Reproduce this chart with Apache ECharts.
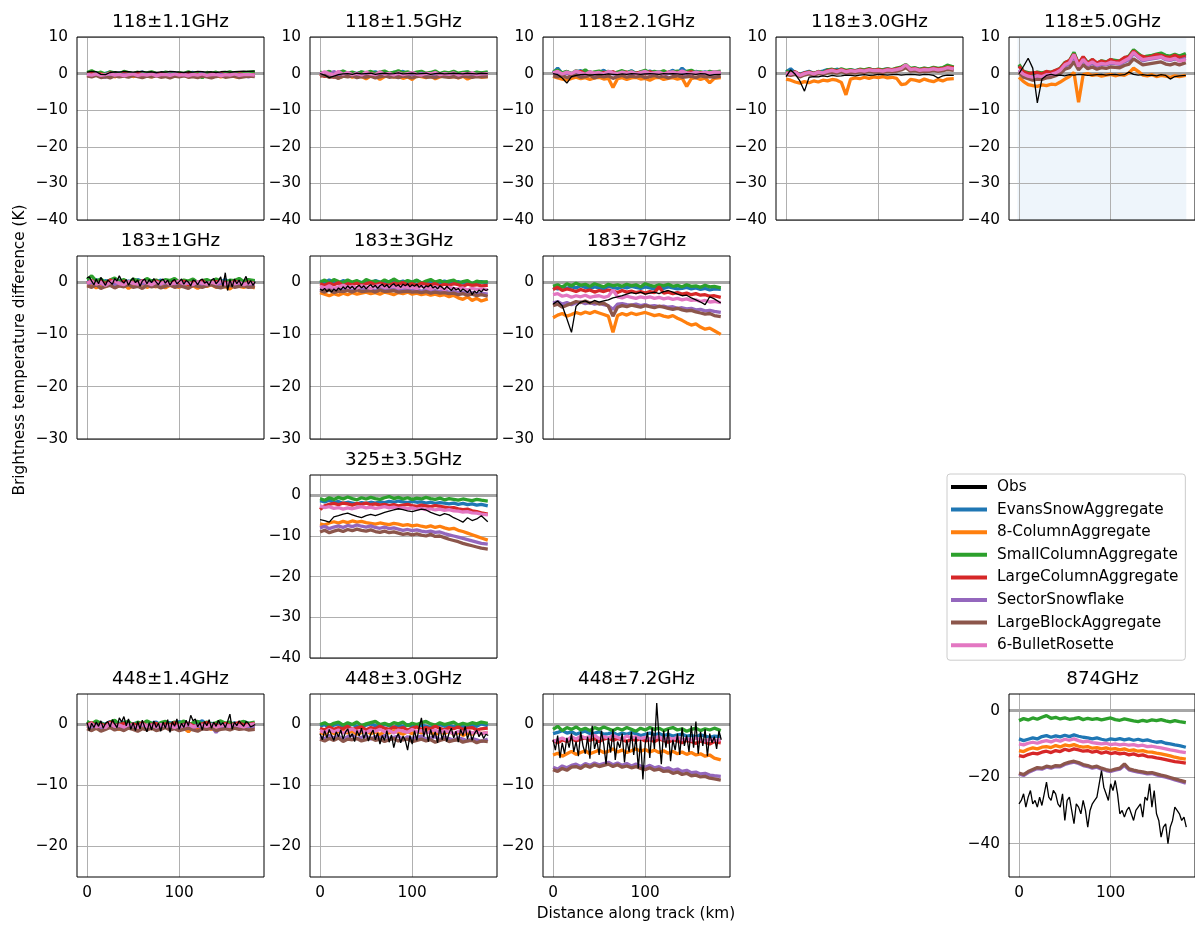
<!DOCTYPE html>
<html><head><meta charset="utf-8">
<script src="https://cdn.jsdelivr.net/npm/echarts@6/dist/echarts.min.js"></script>
<style>html,body{margin:0;padding:0;background:#fff}#c{width:1195px;height:927px}</style>
</head><body><div id="c"></div>
<script>
// ---------- distances (km) ----------
const dist = [0,5,10,15,20,25,30,35,40,45,50,55,60,65,70,75,80,85,90,95,100,105,110,115,120,125,130,135,140,145,150,155,160,165,170,175,182];
const distFine = [0,2.5,5,7.5,10,12.5,15,17.5,20,22.5,25,27.5,30,32.5,35,37.5,40,42.5,45,47.5,50,52.5,55,57.5,60,62.5,65,67.5,70,72.5,75,77.5,80,82.5,85,87.5,90,92.5,95,97.5,100,102.5,105,107.5,110,112.5,115,117.5,120,122.5,125,127.5,130,132.5,135,137.5,140,142.5,145,147.5,150,152.5,155,157.5,160,162.5,165,167.5,170,172.5,175,177.5,180,182.5];

// ---------- tick labels ----------
const xTicks = [0,100];
const yTicksTop = [-40,-30,-20,-10,0,10];
const yTicks183 = [-30,-20,-10,0];
const yTicks325 = [-40,-30,-20,-10,0];
const yTicks448 = [-20,-10,0];
const yTicks874 = [-40,-20,0];

const seriesNames = ['Obs','EvansSnowAggregate','8-ColumnAggregate','SmallColumnAggregate','LargeColumnAggregate','SectorSnowflake','LargeBlockAggregate','6-BulletRosette'];
const panelTitles = ['118±1.1GHz','118±1.5GHz','118±2.1GHz','118±3.0GHz','118±5.0GHz','183±1GHz','183±3GHz','183±7GHz','325±3.5GHz','448±1.4GHz','448±3.0GHz','448±7.2GHz','874GHz'];

// ---------- 118±1.1 ----------
const a118_11_obs = [0.4,0.6,0.5,-0.2,-0.3,0.3,0.5,0.4,0.6,0.5,0.4,0.5,0.6,0.4,0.5,0.3,0.5,0.4,0.6,0.5,0.4,0.3,0.5,0.4,0.6,0.5,0.4,0.5,0.3,0.5,0.6,0.4,0.5,0.6,0.7,0.6,0.7];
const a118_11_evans = [0.2,-0.1,0.3,-0.2,0.1,0.4,-0.3,0.2,0.0,0.3,-0.2,0.1,0.4,-0.1,0.2,-0.3,0.1,0.3,-0.2,0.0,0.2,-0.4,0.1,0.3,-0.1,0.2,-0.3,0.0,0.2,-0.2,0.1,0.3,-0.1,0.2,0.0,-0.2,0.1];
const a118_11_col8 = [-0.4,-0.7,-0.3,-0.8,-0.5,-0.2,-0.9,-0.4,-0.6,-0.3,-0.8,-0.5,-0.2,-0.7,-0.9,-0.4,-0.6,-0.3,-0.8,-0.5,-0.7,-0.4,-0.9,-0.3,-0.6,-0.8,-0.5,-0.7,-0.4,-0.9,-0.6,-0.3,-0.8,-1.0,-0.5,-0.7,-0.4];
const a118_11_small = [0.3,0.8,0.1,0.4,-0.2,0.5,0.2,-0.1,0.6,0.3,0.0,0.4,-0.3,0.2,0.5,0.1,-0.2,0.4,0.2,-0.5,0.3,0.0,0.5,-0.1,0.2,-1.2,0.3,0.1,0.4,-0.2,0.2,0.5,0.0,0.3,-0.1,0.4,0.5];
const a118_11_large = [-0.2,0.1,-0.4,-0.1,-0.5,0.2,-0.3,-0.6,0.0,-0.2,-0.4,0.1,-0.3,-0.5,-0.1,-0.3,0.0,-0.4,-0.2,-0.6,-0.1,-0.3,0.1,-0.5,-0.2,-0.4,-0.7,-0.1,-0.3,0.0,-0.4,-0.2,-0.5,-0.1,-0.3,-0.4,-0.2];
const a118_11_sector = [-0.3,-0.6,-0.2,-0.8,-1.0,-0.4,-0.2,-0.6,-0.3,-0.5,-0.1,-0.7,-0.4,-0.2,-0.6,-0.3,-0.8,-0.4,-0.1,-0.5,-0.7,-0.3,-0.5,-0.2,-0.6,-0.4,-0.8,-0.3,-0.5,-0.2,-0.6,-0.4,-0.7,-0.3,-0.5,-0.9,-0.4];
const a118_11_block = [-0.6,-0.9,-0.5,-1.1,-0.8,-1.2,-0.6,-0.9,-0.7,-1.0,-0.5,-0.8,-1.1,-0.7,-0.9,-0.6,-1.0,-0.8,-1.2,-0.7,-0.9,-0.6,-1.0,-0.8,-1.1,-0.7,-0.9,-1.2,-0.8,-0.6,-1.0,-0.8,-0.7,-1.1,-0.9,-0.7,-0.8];
const a118_11_bullet = [-0.2,-0.4,-0.1,-0.5,-0.3,0.0,-0.4,-0.2,-0.6,-0.3,-0.1,-0.5,-0.2,-0.4,-0.1,-0.6,-0.3,-0.2,-0.5,-0.1,-0.4,-0.3,-0.6,-0.2,-0.4,-0.1,-0.5,-0.3,-0.2,-0.6,-0.3,-0.4,-0.1,-0.5,-0.3,-0.2,-0.4];

// ---------- 118±1.5 ----------
const a118_15_obs = [0.0,-0.4,-1.1,-0.7,-0.3,-0.1,0.0,-0.2,0.1,-0.1,0.0,0.1,-0.2,0.0,0.1,-0.1,0.0,0.2,-0.1,0.0,0.1,-0.1,0.0,0.1,-0.2,0.0,0.1,-0.1,0.0,0.1,0.0,-0.1,0.1,0.0,-0.1,0.1,0.0];
const a118_15_evans = [0.3,0.0,0.5,-0.2,0.2,0.6,-0.1,0.3,0.0,0.4,-0.3,0.2,0.5,0.0,0.3,-0.2,0.4,0.1,0.6,-0.1,0.3,0.0,0.5,-0.2,0.2,0.4,-0.1,0.3,0.0,0.5,-0.2,0.2,0.4,-0.1,0.3,0.1,0.2];
const a118_15_col8 = [-0.6,-0.3,-0.9,-0.5,-1.2,-0.7,-0.4,-1.0,-0.6,-0.8,-1.4,-0.7,-0.5,-1.6,-0.8,-0.6,-1.0,-0.7,-1.3,-0.9,-1.6,-0.6,-0.8,-1.1,-0.7,-1.4,-0.9,-0.6,-1.0,-0.8,-1.2,-0.7,-1.5,-0.9,-0.6,-1.0,-0.8];
const a118_15_small = [0.4,0.1,0.6,0.0,0.3,0.7,0.1,0.4,-0.1,0.5,0.2,0.6,0.0,0.4,0.7,0.1,0.3,0.8,0.2,0.5,0.0,0.4,0.6,0.1,0.3,0.7,0.0,0.4,0.2,0.6,0.1,0.3,0.5,0.0,0.4,0.2,0.5];
const a118_15_large = [-0.2,-0.8,-0.4,-1.0,-0.3,-0.6,-0.1,-0.5,-0.2,-0.7,-0.3,0.0,-0.5,-0.2,-0.6,-0.1,-0.4,-0.8,-0.2,-0.5,-0.1,-0.6,-0.3,-0.4,-0.1,-0.5,-0.2,-0.7,-0.3,-0.1,-0.5,-0.2,-0.6,-0.3,-0.4,-0.2,-0.3];
const a118_15_sector = [-0.3,0.2,-0.5,0.6,-0.2,-0.7,0.3,-0.4,-0.1,-0.6,0.1,-0.3,-0.5,0.2,-0.4,-0.2,-0.6,0.0,-0.3,-0.5,-0.1,-0.4,0.1,-0.6,-0.2,-0.3,-0.5,0.0,-0.4,-0.2,-0.6,-0.1,-0.3,-0.5,-0.2,-0.4,-0.3];
const a118_15_block = [-0.7,-0.5,-1.0,-0.8,-1.3,-0.7,-0.9,-0.6,-1.1,-0.8,-1.0,-0.7,-1.2,-0.9,-0.6,-1.0,-0.8,-1.1,-0.7,-0.9,-1.2,-0.8,-0.6,-1.0,-0.9,-1.1,-0.7,-0.9,-1.0,-0.8,-1.1,-0.7,-0.9,-1.0,-0.8,-0.9,-0.8];
const a118_15_bullet = [-0.1,0.5,0.0,-0.4,0.6,-0.2,0.3,-0.3,0.1,-0.4,0.4,-0.1,-0.3,0.5,-0.2,0.1,-0.4,0.2,-0.3,0.0,0.3,-0.2,-0.4,0.1,-0.1,0.3,-0.3,0.0,-0.2,0.2,-0.4,0.0,-0.1,0.2,-0.3,-0.1,0.0];

// ---------- 118±2.1 ----------
const a118_21_obs = [0.0,-0.3,-1.2,-2.6,-0.8,-0.5,-0.3,-0.2,-0.4,-0.3,-0.2,-0.3,-0.1,-0.2,-0.3,-0.1,-0.2,0.0,-0.1,-0.2,-0.1,0.0,-0.1,-0.2,0.0,-0.1,0.0,-0.1,-0.2,0.0,-0.1,-0.2,0.0,-0.1,-0.5,-0.3,-0.2];
const a118_21_evans = [0.2,1.5,0.0,0.6,-0.2,0.4,0.8,0.0,0.5,-0.1,0.3,0.9,0.1,0.4,0.0,0.6,0.2,0.8,0.0,0.4,0.1,0.7,0.2,0.5,0.0,0.3,0.9,0.1,1.5,0.3,0.0,0.6,0.2,0.5,0.1,0.4,0.3];
const a118_21_col8 = [-0.8,-1.2,-1.5,-1.8,-1.3,-1.0,-1.4,-1.1,-1.6,-1.2,-1.0,-1.5,-1.3,-3.8,-1.4,-1.1,-1.6,-1.2,-1.0,-1.5,-1.3,-1.8,-1.2,-1.0,-1.6,-1.3,-1.1,-1.5,-1.2,-3.5,-1.4,-1.1,-1.6,-1.2,-2.5,-1.3,-1.1];
const a118_21_small = [0.5,0.9,0.2,0.6,0.0,0.8,0.3,1.0,0.1,0.5,0.7,0.2,0.6,0.0,0.4,0.8,0.3,0.6,0.1,0.5,0.9,0.2,0.6,0.3,0.8,0.1,0.5,0.7,0.2,0.6,0.9,0.3,0.5,0.1,0.6,0.4,0.7];
const a118_21_large = [0.0,0.5,-0.3,0.3,-0.5,0.2,0.6,-0.2,0.4,0.0,-0.4,0.3,0.1,0.5,-0.2,0.2,0.4,-0.3,0.1,0.3,-0.1,0.5,0.0,0.2,-0.3,0.4,0.1,0.3,-0.2,0.2,0.5,0.0,0.3,-0.1,0.2,0.0,0.3];
const a118_21_sector = [-0.2,0.3,-0.5,0.1,-0.3,0.4,-0.1,-0.4,0.2,-0.2,0.0,-0.5,0.3,-0.1,-0.3,0.2,0.0,-0.4,0.1,-0.2,0.3,-0.1,-0.3,0.2,-0.5,0.0,0.3,-0.2,0.1,-0.4,0.0,0.2,-0.3,0.1,-0.2,0.0,-0.1];
const a118_21_block = [-0.6,-0.9,-0.5,-1.1,-0.7,-0.4,-1.0,-0.8,-0.5,-1.2,-0.7,-0.9,-0.6,-1.3,-0.8,-0.5,-1.0,-0.7,-0.9,-0.6,-1.1,-0.8,-0.5,-1.0,-0.7,-1.2,-0.8,-0.6,-1.0,-0.9,-0.7,-1.1,-0.6,-0.9,-0.8,-1.0,-0.7];
const a118_21_bullet = [0.2,0.6,-0.1,0.4,0.0,0.7,0.2,-0.2,0.5,0.1,0.3,-0.1,0.6,0.2,0.0,0.4,0.1,0.5,-0.1,0.3,0.6,0.0,0.2,0.4,-0.1,0.3,0.5,0.1,0.7,0.2,0.0,0.4,0.1,0.3,0.2,0.5,0.3];

// ---------- 118±3.0 ----------
const a118_30_obs = [-0.8,1.0,-0.2,-2.0,-4.8,-1.0,-0.8,-0.9,-0.6,-0.8,-0.5,-0.7,-0.6,-0.4,-0.5,-0.6,-0.4,-0.3,-0.5,-0.4,-0.2,-0.3,-0.4,-0.3,-0.2,-0.4,-0.3,-0.2,-0.3,-0.4,-0.2,-0.3,-0.5,-1.2,-0.6,-0.4,-0.5];
const a118_30_evans = [0.5,1.3,0.2,-0.2,0.3,0.6,0.1,0.4,0.7,1.1,0.8,1.2,0.9,0.6,1.0,0.8,1.1,0.7,1.2,1.0,0.8,1.1,1.3,0.9,1.2,1.5,2.2,1.3,1.5,1.1,1.4,1.2,1.6,1.3,1.5,2.0,1.7];
const a118_30_col8 = [-1.5,-1.8,-2.3,-2.6,-2.2,-2.5,-2.0,-2.3,-1.8,-2.0,-1.6,-1.8,-2.4,-5.8,-1.5,-1.2,-1.4,-1.0,-1.3,-0.9,-1.1,-0.8,-1.2,-1.0,-1.3,-3.0,-2.8,-1.6,-1.8,-2.1,-1.5,-1.9,-2.2,-1.6,-2.0,-1.5,-1.4];
const a118_30_small = [0.8,0.2,0.4,-0.3,0.1,0.5,0.0,0.6,0.3,1.0,1.2,0.8,1.3,0.9,1.1,0.7,1.2,1.0,1.4,0.9,1.2,1.0,1.3,1.1,1.5,1.8,2.5,1.4,1.6,1.2,1.5,1.3,1.7,1.4,1.6,2.3,1.8];
const a118_30_large = [0.3,0.0,0.5,-0.4,0.2,0.4,0.0,0.5,0.2,0.8,1.0,0.7,1.1,0.6,0.9,0.7,1.0,0.8,1.2,0.9,1.1,0.8,1.2,1.0,1.3,1.6,2.3,1.2,1.4,1.0,1.3,1.1,1.5,1.2,1.4,1.8,1.6];
const a118_30_sector = [0.0,-0.3,0.2,-0.6,-0.1,0.2,-0.2,0.3,0.1,0.5,0.7,0.4,0.8,0.4,0.6,0.5,0.8,0.6,0.9,0.7,0.8,0.6,0.9,0.8,1.0,1.3,2.0,1.0,1.1,0.8,1.0,0.9,1.2,0.9,1.1,1.4,1.2];
const a118_30_block = [-0.3,-0.5,-0.2,-0.9,-0.4,-0.1,-0.5,0.0,-0.2,0.2,0.4,0.1,0.5,0.1,0.3,0.2,0.5,0.3,0.6,0.4,0.5,0.3,0.6,0.5,0.7,1.0,1.6,0.7,0.8,0.5,0.7,0.6,0.9,0.6,0.8,1.1,0.9];
const a118_30_bullet = [0.2,-0.1,0.3,-0.5,0.0,0.3,-0.1,0.4,0.2,0.6,0.9,0.5,1.0,0.5,0.8,0.6,0.9,0.7,1.0,0.8,0.9,0.7,1.0,0.9,1.1,1.4,2.4,1.1,1.3,0.9,1.1,1.0,1.3,1.0,1.2,1.6,1.3];

// ---------- 118±5.0 ----------
const a118_50_obs = [0.0,2.0,4.2,1.5,-8.0,-1.5,-0.5,-0.2,-0.5,-0.4,-0.6,-0.3,-0.4,-0.2,-0.3,-0.5,-0.4,-0.3,-0.2,-0.4,-0.3,-0.2,-0.4,-0.3,0.4,-0.2,-0.4,-0.3,-0.5,-0.4,-0.6,-0.3,-0.5,-1.5,-0.8,-0.6,-0.5];
const a118_50_evans = [2.2,0.4,0.1,-0.2,0.2,0.0,0.3,0.2,0.6,1.3,2.8,3.3,5.5,2.3,4.3,2.8,3.6,2.6,3.3,3.0,3.6,3.4,3.2,4.0,4.6,6.3,5.3,4.3,4.6,4.8,5.1,5.4,4.8,4.6,5.1,4.6,5.2];
const a118_50_col8 = [-1.0,-2.2,-3.0,-3.3,-3.5,-3.1,-3.3,-2.9,-3.0,-2.3,-1.5,-0.8,0.3,-7.8,-0.3,0.0,-0.5,-0.3,-0.7,-0.4,-0.2,-0.6,-0.3,-0.5,0.2,1.5,0.6,-0.4,-0.6,-0.3,-0.8,-0.5,-0.7,-1.0,-0.6,-0.8,-0.5];
const a118_50_small = [2.5,0.6,0.3,0.0,0.4,0.2,0.5,0.4,0.8,1.5,3.0,3.5,5.8,2.5,4.5,3.0,3.8,2.8,3.5,3.2,3.8,3.6,3.4,4.2,4.8,6.5,5.5,4.5,4.8,5.0,5.3,5.6,5.0,4.8,5.3,4.8,5.5];
const a118_50_large = [2.0,0.5,0.0,0.2,0.3,-0.1,0.6,0.3,0.9,1.4,2.9,3.6,5.3,2.8,4.6,2.7,3.9,2.9,3.4,3.0,3.9,3.2,3.5,4.4,4.6,6.2,5.0,4.7,4.4,4.7,5.2,5.0,4.6,4.4,5.0,4.4,4.8];
const a118_50_sector = [1.0,-0.4,-0.8,-1.2,-0.8,-1.0,-0.5,-0.4,0.0,0.6,2.0,2.6,4.6,1.8,3.5,2.2,2.8,2.0,2.5,2.4,2.8,2.7,2.5,3.2,3.8,5.5,4.5,3.5,3.8,4.0,4.2,4.5,3.8,3.6,4.0,3.6,4.2];
const a118_50_block = [0.2,-1.0,-1.4,-1.8,-1.5,-1.6,-1.2,-1.0,-0.6,0.0,1.2,1.6,3.2,1.0,2.4,1.3,1.8,1.2,1.6,1.4,1.8,1.7,1.6,2.2,2.6,4.0,3.2,2.4,2.6,2.8,3.0,3.2,2.6,2.4,2.8,2.4,3.0];
const a118_50_bullet = [0.8,-0.2,-0.7,-1.0,-0.6,-0.8,-0.3,-0.2,0.2,0.9,2.4,3.0,5.2,2.0,3.9,2.5,3.2,2.4,2.8,2.6,3.1,2.9,2.8,3.5,4.2,5.8,4.6,3.8,4.0,4.2,4.4,4.6,4.0,3.8,4.2,3.4,3.8];

// ---------- 183±1 ----------
const a183_1_obs = [0.8,1.0,0.2,-0.5,0.6,-0.3,0.9,0.1,-0.6,0.4,0.0,-0.4,0.7,0.2,1.2,0.3,-0.2,0.5,-0.6,0.3,0.8,-0.1,0.4,-0.8,0.2,0.6,-0.3,0.5,-0.1,0.7,0.0,-0.5,0.3,0.6,-0.2,0.4,-0.6,0.2,0.5,-0.3,0.1,0.6,-0.4,0.3,0.0,-0.7,0.4,0.2,-0.5,0.3,0.6,-0.2,0.1,-0.6,0.4,0.7,-0.3,0.2,1.0,-0.8,1.8,-1.6,0.5,-0.9,0.6,-0.3,0.4,-0.7,0.2,1.1,-0.4,0.3,-0.6,0.1];
const a183_1_evans = [0.3,0.0,0.5,-0.2,0.3,0.1,-0.3,0.4,0.0,0.2,-0.1,0.5,0.1,-0.2,0.3,0.0,0.4,-0.3,0.2,0.1,-0.1,0.3,0.0,0.4,-0.2,0.2,0.1,-0.3,0.3,0.0,0.5,-0.1,0.2,0.4,-0.2,0.1,0.2];
const a183_1_col8 = [-0.8,-0.5,-1.1,-0.6,-0.9,-0.4,-1.0,-0.7,-0.5,-1.2,-0.6,-0.8,-0.4,-1.0,-0.7,-0.9,-0.5,-1.1,-0.6,-0.8,-1.0,-0.5,-0.9,-0.7,-1.2,-0.6,-0.8,-0.5,-1.0,-0.7,-0.9,-1.3,-0.6,-0.8,-1.0,-0.7,-1.1];
const a183_1_small = [0.5,1.2,0.2,0.6,-0.1,0.4,0.8,0.1,0.5,-0.2,0.6,0.3,0.0,0.7,0.2,0.4,-0.1,0.5,0.3,0.7,0.0,0.4,0.2,0.6,-0.1,0.3,0.5,0.1,0.6,0.2,-0.2,0.4,0.3,0.7,0.1,0.5,0.3];
const a183_1_large = [-0.2,0.3,-0.5,0.1,-0.3,0.4,-0.1,-0.6,0.2,-0.2,0.0,-0.4,0.3,-0.1,-0.5,0.2,-0.2,0.0,-0.4,0.1,-0.3,0.2,-0.5,0.0,-0.2,0.3,-0.4,-0.1,0.1,-0.3,0.0,-0.5,0.2,-0.2,-0.4,0.0,-0.3];
const a183_1_sector = [-0.4,-0.1,-0.6,-0.2,-0.8,-0.3,-0.5,-0.1,-0.7,-0.4,-0.2,-0.6,-0.3,-0.5,-0.1,-0.7,-0.4,-0.2,-0.6,-0.3,-0.8,-0.4,-0.2,-0.5,-0.3,-0.7,-0.1,-0.4,-0.6,-0.3,-0.5,-0.2,-0.7,-0.4,-0.3,-0.6,-0.4];
const a183_1_block = [-0.7,-1.0,-0.5,-1.2,-0.8,-0.6,-1.1,-0.7,-0.9,-0.5,-1.0,-0.8,-1.2,-0.6,-0.9,-0.7,-1.1,-0.8,-0.5,-1.0,-0.7,-0.9,-1.2,-0.6,-0.8,-1.0,-0.7,-0.5,-0.9,-1.1,-0.8,-0.6,-1.0,-0.8,-0.7,-1.0,-0.9];
const a183_1_bullet = [-0.2,0.2,-0.4,0.0,-0.6,-0.1,0.3,-0.3,-0.5,0.1,-0.2,-0.4,0.2,-0.1,-0.5,0.0,-0.3,0.1,-0.4,-0.2,0.2,-0.3,-0.1,-0.5,0.1,-0.2,-0.4,0.0,-0.3,0.2,-0.4,-0.1,-0.3,0.0,-0.5,-0.2,-0.3];

// ---------- 183±3 ----------
const a183_3_obs = [-1.3,-1.6,-1.2,-1.8,-1.4,-1.9,-1.3,-1.7,-1.1,-1.5,-0.9,-1.3,-0.7,-1.2,-0.8,-1.4,-0.9,-0.6,-1.1,-0.7,-1.3,-0.8,-0.5,-1.0,-0.6,-1.2,-0.7,-0.4,-0.9,-0.5,-1.1,-0.6,-0.3,-0.8,-0.5,-1.0,-0.4,-0.7,-0.3,-0.9,-0.5,-0.8,-0.4,-1.0,-0.6,-1.2,-0.7,-0.9,-0.5,-1.1,-0.8,-1.3,-0.7,-1.0,-1.4,-0.8,-1.2,-1.6,-1.0,-1.5,-1.2,-1.8,-1.3,-1.6,-2.0,-1.4,-2.4,-1.7,-2.1,-1.5,-1.9,-1.3,-1.6,-1.4];
const a183_3_evans = [0.2,-0.1,0.4,0.0,-0.2,0.3,0.0,-0.3,0.2,-0.1,0.1,-0.2,0.3,0.0,-0.2,0.1,0.4,-0.1,0.2,-0.2,0.0,0.3,-0.1,-0.3,0.1,0.0,-0.2,0.2,-0.1,-0.3,0.1,-0.2,0.0,-0.3,-0.1,0.1,-0.2];
const a183_3_col8 = [-2.0,-2.3,-2.6,-2.2,-2.5,-2.1,-2.4,-2.0,-2.3,-2.1,-1.9,-2.2,-2.0,-2.3,-1.9,-2.1,-2.4,-2.0,-2.2,-1.9,-2.3,-2.1,-2.4,-2.2,-2.5,-2.3,-2.6,-2.4,-2.8,-2.5,-3.0,-3.3,-2.8,-3.5,-3.1,-3.6,-3.2];
const a183_3_small = [0.0,0.4,-0.2,0.5,0.1,-0.1,0.4,0.0,0.3,-0.2,0.5,0.1,0.2,-0.1,0.4,0.0,0.6,0.1,-0.1,0.3,0.0,0.4,-0.2,0.2,0.5,0.0,0.3,-0.1,0.2,0.4,-0.2,0.1,0.3,-0.3,0.2,0.0,0.1];
const a183_3_large = [-0.3,-0.6,-0.2,-0.5,-0.1,-0.7,-0.3,-0.5,-0.2,-0.6,-0.3,-0.1,-0.5,-0.2,-0.4,-0.6,-0.2,-0.4,-0.1,-0.5,-0.3,-0.6,-0.2,-0.4,-0.5,-0.3,-0.7,-0.4,-0.6,-0.3,-0.5,-0.8,-0.4,-0.6,-0.5,-0.7,-0.6];
const a183_3_sector = [-1.3,-1.6,-1.2,-1.7,-1.4,-1.5,-1.3,-1.6,-1.2,-1.5,-1.4,-1.3,-1.6,-1.2,-1.5,-1.4,-1.3,-1.6,-1.5,-1.4,-1.6,-1.5,-1.7,-1.5,-1.8,-1.6,-1.8,-1.7,-1.9,-1.8,-2.0,-1.9,-2.1,-2.0,-2.2,-2.1,-2.3];
const a183_3_block = [-1.6,-1.9,-1.5,-2.0,-1.7,-1.8,-1.6,-1.9,-1.5,-1.8,-1.7,-1.6,-1.9,-1.5,-1.8,-1.7,-1.6,-1.9,-1.8,-1.7,-1.9,-1.8,-2.0,-1.8,-2.1,-1.9,-2.1,-2.0,-2.2,-2.1,-2.4,-2.2,-2.5,-2.3,-2.6,-2.4,-2.7];
const a183_3_bullet = [-0.8,-1.1,-0.7,-1.2,-0.9,-0.6,-1.0,-0.8,-1.1,-0.7,-0.9,-1.2,-0.8,-0.6,-1.0,-0.9,-0.7,-1.1,-0.8,-1.0,-0.9,-1.2,-0.8,-1.0,-1.3,-0.9,-1.1,-1.4,-1.0,-1.2,-1.3,-1.1,-1.5,-1.2,-1.4,-1.3,-1.5];

// ---------- 183±7 ----------
const a183_7_obs = [-4.2,-3.6,-4.5,-7.0,-9.6,-4.6,-3.8,-3.6,-4.0,-3.5,-3.8,-3.6,-3.4,-3.0,-2.8,-2.6,-2.3,-2.0,-2.2,-1.9,-2.3,-2.1,-1.9,-2.2,-1.8,-1.6,-1.9,-2.3,-2.6,-2.5,-3.0,-3.4,-3.8,-4.3,-2.8,-3.2,-4.0];
const a183_7_evans = [-1.0,-1.3,-0.8,-1.2,-0.9,-1.1,-0.7,-1.0,-1.2,-0.9,-1.1,-1.3,-0.8,-1.0,-1.2,-0.9,-1.1,-0.8,-1.0,-1.2,-0.9,-1.1,-1.3,-1.0,-1.2,-0.9,-1.1,-1.3,-1.2,-1.0,-1.3,-1.1,-1.4,-1.2,-1.5,-1.3,-1.4];
const a183_7_col8 = [-6.8,-6.3,-6.0,-6.5,-6.2,-5.8,-6.1,-5.7,-6.0,-5.6,-5.9,-6.2,-6.5,-9.6,-6.4,-6.0,-6.3,-5.9,-6.2,-6.0,-5.8,-6.1,-6.4,-6.2,-6.5,-6.7,-6.4,-6.9,-7.3,-7.8,-8.2,-8.0,-8.6,-9.0,-8.8,-9.3,-10.0];
const a183_7_small = [-0.8,-0.5,-1.0,-0.3,-0.7,-0.2,-0.6,-0.4,-0.8,-0.3,-0.6,-0.9,-0.4,-0.7,-0.5,-0.8,-0.4,-0.7,-0.5,-0.9,-0.3,-0.6,-0.8,-0.5,-0.7,-0.4,-0.8,-0.6,-0.9,-0.5,-0.8,-0.7,-1.0,-0.6,-0.9,-0.8,-1.1];
const a183_7_large = [-1.4,-1.0,-1.6,-1.3,-1.5,-1.8,-1.4,-1.7,-1.5,-1.9,-1.6,-1.8,-1.5,-1.7,-2.0,-1.6,-1.9,-1.7,-2.0,-1.8,-2.1,-1.8,-2.0,-0.9,-2.1,-1.9,-2.2,-2.0,-2.3,-2.1,-2.4,-2.2,-2.5,-2.4,-2.7,-2.6,-2.9];
const a183_7_sector = [-4.0,-3.7,-4.2,-3.9,-4.3,-4.0,-3.8,-4.1,-3.9,-4.2,-4.0,-4.3,-4.5,-5.2,-4.2,-4.1,-4.3,-4.4,-4.2,-4.5,-4.3,-4.6,-4.5,-4.7,-4.6,-4.8,-4.7,-5.0,-4.9,-5.1,-5.0,-5.3,-5.2,-5.5,-5.4,-5.6,-5.8];
const a183_7_block = [-4.5,-4.2,-4.8,-4.4,-4.1,-3.7,-3.9,-3.6,-4.0,-3.8,-4.2,-4.0,-4.6,-6.5,-4.8,-4.5,-4.7,-4.4,-4.6,-4.8,-4.5,-4.7,-4.9,-4.6,-4.8,-5.0,-5.2,-5.0,-5.3,-5.5,-5.4,-5.7,-5.9,-6.1,-6.0,-6.4,-6.6];
const a183_7_bullet = [-2.4,-2.2,-2.7,-2.5,-2.9,-2.6,-2.8,-2.5,-2.9,-2.7,-2.6,-2.9,-2.7,-1.5,-2.8,-3.0,-2.7,-2.9,-3.1,-2.8,-3.0,-2.8,-3.1,-2.9,-3.2,-3.0,-3.3,-3.1,-3.4,-3.2,-3.5,-3.4,-3.7,-3.5,-3.8,-3.7,-3.9];

// ---------- 325±3.5 ----------
const a325_35_obs = [-6.0,-6.2,-6.6,-5.3,-5.0,-4.6,-4.4,-4.8,-5.2,-5.5,-5.0,-4.7,-5.0,-4.6,-4.2,-3.9,-3.6,-3.3,-3.5,-3.8,-4.0,-3.7,-3.4,-3.6,-4.2,-4.6,-5.0,-4.5,-4.8,-5.5,-6.0,-6.6,-5.5,-6.2,-5.8,-5.0,-6.5];
const a325_35_evans = [-1.3,-1.6,-1.2,-1.8,-1.5,-2.0,-1.7,-1.9,-2.1,-1.8,-2.0,-1.7,-1.9,-1.6,-1.8,-1.5,-1.7,-1.4,-1.6,-1.8,-1.5,-1.7,-1.6,-1.9,-1.7,-2.0,-1.8,-1.9,-2.1,-1.9,-2.2,-2.0,-2.3,-2.1,-2.4,-2.2,-2.6];
const a325_35_col8 = [-7.0,-7.3,-6.8,-6.5,-6.8,-6.4,-6.7,-6.3,-6.6,-6.4,-6.7,-6.9,-7.1,-6.8,-7.0,-7.2,-6.9,-7.1,-7.4,-7.2,-7.5,-7.3,-7.6,-7.8,-7.5,-7.9,-7.6,-8.0,-8.3,-8.1,-8.6,-8.9,-9.3,-9.7,-10.1,-10.5,-11.0];
const a325_35_small = [-0.8,-1.2,-0.6,-1.0,-0.5,-0.9,-0.4,-0.8,-1.1,-0.6,-0.9,-0.5,-0.8,-1.0,-0.6,-0.3,-0.8,-0.5,-0.9,-0.6,-1.0,-0.7,-0.9,-0.5,-0.8,-1.0,-0.7,-1.1,-0.8,-1.0,-1.2,-0.9,-1.1,-1.3,-1.0,-1.2,-1.4];
const a325_35_large = [-3.5,-2.6,-2.2,-2.0,-2.3,-1.9,-2.1,-2.4,-2.0,-2.2,-1.9,-2.3,-2.1,-2.4,-2.2,-2.5,-2.3,-2.6,-2.4,-2.2,-2.5,-2.7,-2.4,-2.6,-2.8,-2.5,-2.7,-2.9,-3.1,-3.0,-3.3,-3.5,-3.4,-3.8,-4.0,-4.3,-4.6];
const a325_35_sector = [-8.0,-7.6,-8.2,-7.8,-7.5,-7.9,-7.4,-7.7,-7.3,-7.6,-7.8,-7.5,-7.9,-8.1,-7.8,-8.2,-8.0,-8.3,-8.6,-8.4,-8.7,-8.5,-8.8,-9.0,-8.8,-9.1,-9.0,-9.4,-9.7,-10.0,-10.3,-10.6,-10.9,-11.2,-11.5,-11.8,-12.0];
const a325_35_block = [-9.0,-8.6,-9.2,-8.8,-8.5,-8.9,-8.4,-8.7,-8.3,-8.6,-8.8,-8.5,-8.9,-9.1,-8.8,-9.2,-9.0,-9.3,-9.6,-9.4,-9.7,-9.5,-9.8,-10.0,-9.6,-10.1,-10.0,-10.4,-10.8,-11.1,-11.4,-11.8,-12.1,-12.4,-12.7,-13.0,-13.2];
const a325_35_bullet = [-2.6,-3.0,-2.8,-3.2,-3.0,-3.4,-3.1,-3.3,-3.0,-2.8,-3.1,-2.9,-3.2,-3.0,-2.8,-3.1,-2.9,-3.2,-3.0,-3.3,-3.1,-3.4,-3.2,-3.5,-3.3,-3.6,-3.4,-3.7,-3.5,-3.8,-3.9,-4.1,-4.0,-4.3,-4.4,-4.6,-4.8];

// ---------- 448±1.4 ----------
const a448_14_obs = [0.3,-1.0,0.2,-0.5,0.4,-0.3,0.6,-0.6,0.2,0.5,-0.4,0.8,0.1,-0.5,1.1,0.4,1.3,-0.2,0.9,-0.8,0.3,-1.0,0.5,-0.7,0.7,-0.4,-1.2,0.3,-0.9,0.6,-0.5,0.2,-1.1,0.4,-0.6,0.8,-1.3,0.5,-0.3,0.9,-0.8,0.2,-0.5,0.7,-0.2,1.5,0.6,0.9,-0.4,0.3,-0.9,0.5,-0.2,0.8,-0.6,0.4,-0.3,0.7,-0.1,0.3,-0.5,0.5,1.7,-0.8,0.4,-0.2,0.6,0.1,-0.3,0.5,0.2,-0.4,-0.2,0.0];
const a448_14_evans = [0.4,0.1,-0.2,0.3,0.0,0.5,-0.1,0.2,0.4,-0.2,0.1,0.3,0.0,-0.3,0.2,0.4,-0.1,0.1,0.3,-0.2,0.5,0.0,0.2,-0.1,0.3,0.6,0.0,0.2,-0.2,0.4,0.1,-0.1,0.3,0.0,0.5,0.2,0.1];
const a448_14_col8 = [-0.5,-0.2,-0.7,-0.3,-0.6,-0.1,-0.5,-0.8,-0.3,-0.6,-0.4,-1.0,-0.5,-0.2,-0.7,-0.4,-0.6,-0.3,-0.8,-0.5,-0.2,-0.6,-1.2,-0.4,-0.7,-0.3,-0.5,-0.8,-0.4,-0.6,-0.3,-0.7,-0.5,-0.2,-0.6,-0.4,-0.5];
const a448_14_small = [0.5,0.1,0.6,0.2,-0.1,0.4,0.7,0.0,0.3,0.5,-0.2,0.4,0.1,0.6,0.2,-0.1,0.3,0.5,0.0,0.4,0.2,0.6,-0.1,0.3,0.5,0.1,0.4,0.0,0.3,0.6,0.2,0.4,-0.1,0.3,0.5,0.2,0.4];
const a448_14_large = [-0.1,0.3,-0.4,0.1,-0.3,0.4,-0.2,0.0,0.2,-0.4,0.1,-0.2,0.3,-0.3,0.0,0.2,-0.4,0.1,-0.1,0.3,-0.3,0.0,0.2,-0.2,-0.4,0.1,0.3,-0.1,0.0,-0.3,0.2,-0.2,0.1,0.3,-0.1,0.0,0.2];
const a448_14_sector = [-0.3,-0.6,-0.2,-0.8,-0.4,-0.1,-0.6,-0.3,-0.5,-0.2,-0.7,-0.4,-0.1,-0.5,-0.3,-0.6,-0.2,-0.4,-0.7,-0.3,-0.5,-0.1,-0.4,-0.6,-0.2,-0.5,-0.8,-0.3,-1.3,-0.4,-0.6,-0.2,-0.5,-0.3,-0.6,-0.4,-0.3];
const a448_14_block = [-0.7,-1.0,-0.6,-1.1,-0.8,-0.5,-0.9,-0.7,-1.0,-0.6,-0.8,-1.1,-0.7,-0.9,-0.6,-1.0,-0.8,-0.5,-0.9,-0.7,-1.0,-0.8,-0.6,-0.9,-1.1,-0.7,-0.8,-0.6,-1.0,-0.8,-0.7,-0.9,-0.6,-0.8,-0.7,-0.9,-0.8];
const a448_14_bullet = [-0.2,0.1,-0.4,-0.1,-0.5,0.2,-0.3,-0.1,-0.4,0.0,-0.2,-0.5,0.1,-0.3,-0.1,-0.4,0.0,-0.3,-0.2,-0.5,-0.1,-0.3,0.1,-0.4,-0.2,-0.1,-0.3,0.0,-0.4,-0.2,-0.1,-0.3,0.0,-0.2,-0.4,-0.1,0.1];

// ---------- 448±3.0 ----------
const a448_30_obs = [-1.5,-2.5,-1.0,-2.2,-0.8,-1.8,-2.6,-1.2,-2.0,-0.9,-2.4,-1.3,-0.7,-2.1,-1.5,-2.8,-1.0,-1.9,-0.6,-2.3,-1.2,-2.7,-1.6,-0.9,-2.5,-1.4,-3.2,-1.8,-2.6,-1.0,-2.9,-1.7,-3.8,-2.2,-1.5,-3.0,-1.9,-2.6,-4.2,-1.8,-3.2,-1.0,-2.6,-0.5,1.1,-2.0,-0.6,-2.8,-0.8,-2.2,-1.2,-3.0,-0.4,-2.5,-1.0,-2.8,-1.4,-0.6,-2.2,-1.1,-2.9,-0.8,-1.8,-0.3,-2.4,-1.0,-2.6,-1.5,-0.9,-2.0,-1.3,-2.3,-1.6,-1.8];
const a448_30_evans = [-0.3,0.0,-0.5,-0.1,0.1,-0.4,-0.2,0.0,-0.3,-0.5,-0.1,0.1,-0.2,-0.4,0.0,-0.2,-0.5,-0.1,-0.3,0.0,-0.4,-0.2,-0.1,-0.3,-0.5,-0.2,0.0,-0.3,-0.1,-0.4,-0.2,-0.3,-0.5,-0.1,-0.3,0.1,-0.2];
const a448_30_col8 = [-1.3,-1.6,-1.0,-1.5,-1.2,-0.9,-1.4,-1.1,-1.6,-1.3,-1.0,-1.5,-1.2,-1.7,-1.1,-1.4,-1.0,-1.3,-1.6,-1.2,-1.5,-1.1,-1.4,-1.0,-1.3,-1.7,-1.2,-1.5,-1.1,-1.6,-1.3,-1.8,-1.4,-1.6,-1.2,-1.5,-1.3];
const a448_30_small = [0.0,0.3,-0.2,0.2,0.4,-0.1,0.3,0.0,0.4,-0.2,0.1,0.3,0.5,0.0,0.2,-0.1,0.3,0.1,0.4,-0.2,0.2,0.0,0.3,0.5,0.1,-0.1,0.3,0.0,0.2,0.4,-0.1,0.2,0.0,0.3,0.1,0.4,0.2];
const a448_30_large = [-0.6,-0.9,-0.4,-0.8,-0.5,-0.7,-0.3,-0.8,-0.6,-0.4,-0.9,-0.5,-0.7,-0.3,-0.6,-0.8,-0.4,-0.7,-0.5,-0.9,-0.6,-0.4,-0.8,-0.5,-0.7,-0.3,-0.6,-0.9,-0.5,-0.7,-0.4,-0.8,-0.6,-0.5,-0.9,-0.7,-0.6];
const a448_30_sector = [-2.0,-2.3,-1.8,-2.2,-1.9,-2.4,-2.0,-1.8,-2.3,-2.1,-1.9,-2.4,-2.0,-2.2,-1.8,-2.3,-2.1,-1.9,-2.5,-2.0,-2.3,-2.1,-1.9,-2.4,-2.2,-2.0,-2.5,-2.1,-2.3,-2.6,-2.2,-2.4,-2.7,-2.3,-2.5,-2.8,-2.4];
const a448_30_block = [-2.4,-2.7,-2.3,-2.6,-2.2,-2.8,-2.4,-2.5,-2.3,-2.7,-2.5,-2.2,-2.6,-2.4,-2.8,-2.5,-2.3,-2.7,-2.5,-2.4,-2.8,-2.6,-2.4,-2.7,-2.5,-2.9,-2.6,-2.4,-2.8,-2.6,-2.5,-2.9,-2.7,-2.6,-3.0,-2.7,-2.8];
const a448_30_bullet = [-1.0,-1.3,-0.8,-1.2,-0.9,-1.4,-1.0,-0.7,-1.2,-1.0,-1.3,-0.9,-1.1,-0.8,-1.2,-1.0,-1.4,-0.9,-1.1,-1.3,-0.8,-1.2,-1.0,-1.4,-1.1,-0.9,-1.3,-1.0,-1.2,-1.5,-1.1,-1.3,-1.0,-1.4,-1.2,-1.5,-1.3];

// ---------- 448±7.2 ----------
const a448_72_obs = [-2.5,-4.2,-1.8,-5.5,-3.0,-4.8,-2.2,-3.8,-1.5,-4.5,-2.8,-5.2,-1.2,-3.5,-4.8,-2.0,-5.6,-0.2,-4.0,-2.5,-5.0,-1.0,-3.2,-6.5,-2.2,-4.6,-0.8,-5.8,-2.8,-3.8,-1.5,-6.2,-2.5,-4.5,-1.2,-5.0,-2.0,-7.2,-2.5,-9.0,-3.2,-1.2,-5.5,-0.5,-4.0,3.5,-2.2,-6.5,-1.0,-3.8,-0.8,-6.0,-2.5,-4.2,-1.5,-5.0,-0.5,-3.5,-1.8,-4.5,-0.2,-3.8,0.5,-4.8,-1.2,-3.5,-0.8,-5.2,-1.5,-3.0,-2.0,-4.0,-1.0,-2.5];
const a448_72_evans = [-1.5,-1.3,-1.0,-1.4,-1.2,-1.6,-1.3,-1.1,-1.5,-1.4,-1.2,-1.6,-1.5,-1.3,-1.7,-1.4,-1.6,-1.3,-1.5,-1.8,-1.6,-1.4,-1.7,-1.5,-1.8,-1.6,-1.9,-1.7,-1.6,-1.9,-1.8,-2.0,-1.7,-1.9,-2.1,-1.9,-2.0];
const a448_72_col8 = [-5.0,-4.7,-5.2,-4.8,-4.4,-4.9,-4.6,-4.3,-4.8,-4.5,-4.2,-4.6,-4.4,-4.0,-4.5,-4.2,-4.6,-4.3,-4.0,-4.4,-4.1,-4.5,-4.2,-4.6,-4.3,-4.7,-4.4,-4.8,-4.5,-4.9,-4.6,-5.0,-4.8,-5.2,-5.0,-5.5,-5.8];
const a448_72_small = [-0.8,-0.3,-1.0,-0.5,-0.8,-0.4,-0.9,-0.6,-1.0,-0.5,-0.8,-0.4,-0.7,-1.0,-0.6,-0.9,-0.5,-0.8,-1.1,-0.6,-0.9,-0.5,-0.8,-0.6,-1.0,-0.7,-0.5,-0.9,-0.7,-1.1,-0.8,-0.6,-1.0,-0.7,-0.9,-0.6,-1.0];
const a448_72_large = [-2.6,-3.0,-2.5,-2.8,-2.3,-2.7,-2.4,-2.2,-2.6,-2.3,-2.8,-2.4,-2.2,-2.6,-2.3,-2.5,-2.8,-2.4,-2.6,-2.3,-2.7,-2.5,-2.8,-2.4,-2.6,-2.9,-2.5,-2.7,-3.0,-2.6,-2.8,-3.1,-2.7,-2.9,-3.2,-2.8,-3.0];
const a448_72_sector = [-7.0,-7.3,-6.8,-7.1,-6.7,-6.5,-6.9,-6.4,-6.7,-6.3,-6.6,-6.4,-6.2,-6.6,-6.3,-6.7,-6.4,-6.8,-6.5,-6.8,-7.0,-6.7,-7.1,-6.9,-7.3,-7.1,-7.5,-7.3,-7.7,-7.5,-7.9,-7.8,-8.1,-8.0,-8.3,-8.4,-8.5];
const a448_72_block = [-7.4,-7.7,-7.2,-7.5,-7.0,-6.9,-7.2,-6.7,-7.0,-6.6,-6.9,-6.7,-6.5,-6.9,-6.6,-7.0,-6.8,-7.1,-6.9,-7.2,-7.4,-7.1,-7.5,-7.3,-7.7,-7.6,-8.0,-7.8,-8.2,-8.0,-8.4,-8.3,-8.6,-8.5,-8.8,-8.9,-9.1];
const a448_72_bullet = [-2.8,-2.5,-2.2,-2.6,-2.0,-2.4,-1.9,-2.2,-2.0,-1.8,-2.3,-2.0,-2.2,-1.8,-2.1,-2.4,-1.9,-2.2,-2.0,-2.3,-2.1,-2.4,-2.2,-2.0,-2.5,-2.2,-2.4,-2.1,-2.5,-2.3,-2.6,-2.2,-2.5,-2.7,-2.4,-2.6,-2.5];

// ---------- 874 ----------
const a874_obs = [-28,-27,-25,-29,-26,-24,-28,-27,-29,-26,-28.5,-25,-21.5,-26,-27,-24,-25,-28,-29,-25,-33,-27,-26,-30,-34,-28,-29,-31,-27,-30,-35,-30,-28,-27,-26,-22,-18,-23,-25,-27,-22,-24,-21,-25,-31,-30,-32,-30,-29,-31,-33,-30,-29,-28,-32,-26,-27,-22,-29,-24,-31,-33,-38,-35,-34,-40,-35,-33,-29,-30,-31,-33,-32,-35];
const a874_evans = [-8.5,-9.0,-8.6,-8.2,-8.5,-7.8,-7.5,-8.0,-7.6,-7.9,-7.4,-7.8,-7.3,-7.7,-8.0,-8.2,-8.5,-8.2,-8.6,-8.9,-8.5,-8.7,-8.4,-8.8,-8.5,-8.9,-8.6,-9.0,-8.8,-9.2,-9.5,-9.3,-9.8,-10.0,-10.3,-10.5,-11.0];
const a874_col8 = [-12.0,-12.3,-11.6,-11.2,-11.5,-11.0,-10.8,-11.1,-10.5,-10.9,-10.3,-10.6,-10.2,-10.7,-11.0,-10.8,-11.3,-11.1,-11.5,-11.2,-11.6,-11.4,-11.8,-11.5,-12.0,-11.8,-12.2,-12.0,-12.4,-12.5,-12.8,-13.0,-13.3,-13.6,-14.0,-14.3,-14.6];
const a874_small = [-3.0,-2.4,-2.8,-2.2,-2.6,-2.0,-1.5,-2.3,-2.0,-2.5,-2.2,-2.6,-2.4,-2.1,-2.7,-2.3,-2.6,-2.4,-2.8,-2.5,-2.2,-2.7,-2.9,-2.5,-2.8,-3.1,-3.3,-2.9,-3.2,-2.8,-3.0,-2.7,-3.1,-3.4,-3.0,-3.3,-3.6];
const a874_large = [-13.5,-13.8,-13.2,-12.8,-13.0,-12.5,-12.2,-12.6,-12.0,-12.3,-11.6,-12.0,-11.5,-11.8,-12.2,-12.0,-12.5,-12.2,-12.8,-12.4,-12.9,-12.6,-13.0,-12.8,-13.3,-13.0,-13.5,-13.3,-13.8,-13.9,-14.2,-14.4,-14.7,-15.0,-15.3,-15.5,-15.8];
const a874_sector = [-19.0,-19.5,-18.6,-18.0,-17.4,-17.6,-17.0,-17.3,-16.8,-16.9,-16.2,-15.8,-15.5,-15.9,-16.5,-16.8,-17.3,-17.0,-17.6,-18.0,-18.3,-17.9,-17.6,-16.5,-17.8,-18.2,-18.5,-18.7,-19.0,-18.9,-19.3,-19.7,-20.0,-20.4,-20.8,-21.2,-21.8];
const a874_block = [-18.8,-19.2,-18.3,-17.7,-17.1,-17.3,-16.7,-17.0,-16.5,-16.6,-15.9,-15.5,-15.2,-15.6,-16.2,-16.5,-17.0,-16.7,-17.3,-17.7,-18.0,-17.6,-17.3,-16.0,-17.5,-17.9,-18.2,-18.4,-18.7,-18.6,-19.0,-19.4,-19.7,-20.1,-20.5,-20.9,-21.4];
const a874_bullet = [-10.0,-10.3,-9.8,-9.5,-9.8,-9.3,-9.0,-9.4,-8.8,-9.2,-8.6,-8.9,-8.5,-9.0,-9.4,-9.2,-9.6,-9.8,-10.0,-9.8,-10.2,-10.0,-10.3,-10.1,-10.4,-10.2,-10.6,-10.4,-10.8,-10.7,-11.0,-11.2,-11.5,-11.8,-12.0,-12.3,-12.6];

// ---------- layout / styling ----------
const FONT = 'DejaVu Sans';
const TICK_FS = 15.3;
const TITLE_FS = 18.3;
const GW = 187, GH = 183;
const colLeft = [77, 310, 543, 776, 1009];
const rowTop = [37, 256, 475, 694];
const colors = ['#000000','#1f77b4','#ff7f0e','#2ca02c','#d62728','#9467bd','#8c564b','#e377c2'];
const xMin = -10.9, xMax = 192;
const shadeRange = [-1.7, 182.5];

const panels = [
  {r:0,c:0,yr:[-40,10],yt:yTicksTop,ox:dist,s:[a118_11_obs,a118_11_evans,a118_11_col8,a118_11_small,a118_11_large,a118_11_sector,a118_11_block,a118_11_bullet]},
  {r:0,c:1,yr:[-40,10],yt:yTicksTop,ox:dist,s:[a118_15_obs,a118_15_evans,a118_15_col8,a118_15_small,a118_15_large,a118_15_sector,a118_15_block,a118_15_bullet]},
  {r:0,c:2,yr:[-40,10],yt:yTicksTop,ox:dist,s:[a118_21_obs,a118_21_evans,a118_21_col8,a118_21_small,a118_21_large,a118_21_sector,a118_21_block,a118_21_bullet]},
  {r:0,c:3,yr:[-40,10],yt:yTicksTop,ox:dist,s:[a118_30_obs,a118_30_evans,a118_30_col8,a118_30_small,a118_30_large,a118_30_sector,a118_30_block,a118_30_bullet]},
  {r:0,c:4,yr:[-40,10],yt:yTicksTop,ox:dist,shade:true,s:[a118_50_obs,a118_50_evans,a118_50_col8,a118_50_small,a118_50_large,a118_50_sector,a118_50_block,a118_50_bullet]},
  {r:1,c:0,yr:[-30,5],yt:yTicks183,ox:distFine,s:[a183_1_obs,a183_1_evans,a183_1_col8,a183_1_small,a183_1_large,a183_1_sector,a183_1_block,a183_1_bullet]},
  {r:1,c:1,yr:[-30,5],yt:yTicks183,ox:distFine,s:[a183_3_obs,a183_3_evans,a183_3_col8,a183_3_small,a183_3_large,a183_3_sector,a183_3_block,a183_3_bullet]},
  {r:1,c:2,yr:[-30,5],yt:yTicks183,ox:dist,s:[a183_7_obs,a183_7_evans,a183_7_col8,a183_7_small,a183_7_large,a183_7_sector,a183_7_block,a183_7_bullet]},
  {r:2,c:1,yr:[-40,5],yt:yTicks325,ox:dist,s:[a325_35_obs,a325_35_evans,a325_35_col8,a325_35_small,a325_35_large,a325_35_sector,a325_35_block,a325_35_bullet]},
  {r:3,c:0,yr:[-25,5],yt:yTicks448,ox:distFine,s:[a448_14_obs,a448_14_evans,a448_14_col8,a448_14_small,a448_14_large,a448_14_sector,a448_14_block,a448_14_bullet]},
  {r:3,c:1,yr:[-25,5],yt:yTicks448,ox:distFine,s:[a448_30_obs,a448_30_evans,a448_30_col8,a448_30_small,a448_30_large,a448_30_sector,a448_30_block,a448_30_bullet]},
  {r:3,c:2,yr:[-25,5],yt:yTicks448,ox:distFine,s:[a448_72_obs,a448_72_evans,a448_72_col8,a448_72_small,a448_72_large,a448_72_sector,a448_72_block,a448_72_bullet]},
  {r:3,c:4,yr:[-50,5],yt:yTicks874,ox:distFine,s:[a874_obs,a874_evans,a874_col8,a874_small,a874_large,a874_sector,a874_block,a874_bullet]}
];

function fmt(v){ return v < 0 ? '\u2212' + Math.abs(v) : String(v); }
function pairs(xs, ys){ const n = Math.min(xs.length, ys.length); const out = []; for (let i=0;i<n;i++) out.push([xs[i], ys[i]]); return out; }

const grids = [], xAxes = [], yAxes = [], series = [], titles = [];
const labelStyle = {fontFamily: FONT, fontSize: TICK_FS, color: '#000'};
panels.forEach((p, i) => {
  const left = colLeft[p.c], top = rowTop[p.r];
  grids.push({left, top, width: GW, height: GH, show: true, borderColor: '#000', borderWidth: 1, z: 6, containLabel: false});
  xAxes.push({gridIndex: i, type: 'value', min: xMin, max: xMax,
    axisLine: {show: false}, splitLine: {show: false},
    axisTick: {show: true, length: 5, lineStyle: {color: '#000', width: 1}, customValues: xTicks},
    axisLabel: Object.assign({show: p.r === 3, margin: 9, customValues: xTicks, formatter: fmt}, labelStyle)});
  yAxes.push({gridIndex: i, type: 'value', min: p.yr[0], max: p.yr[1],
    axisLine: {show: false}, splitLine: {show: false},
    axisTick: {show: true, length: 5, lineStyle: {color: '#000', width: 1}, customValues: p.yt},
    axisLabel: Object.assign({show: true, margin: 9, customValues: p.yt, formatter: fmt}, labelStyle)});
  titles.push({text: panelTitles[i], left: left + GW/2, top: top - 26, textAlign: 'center', textVerticalAlign: 'top', padding: 0,
    textStyle: {fontFamily: FONT, fontSize: TITLE_FS, fontWeight: 'normal', color: '#000', lineHeight: 22}});

  if (p.shade) {
    series.push({type: 'line', xAxisIndex: i, yAxisIndex: i, data: [[0, 0]], showSymbol: false, silent: true,
      lineStyle: {opacity: 0}, z: 0, animation: false,
      markArea: {silent: true, z: 0, itemStyle: {color: '#eef5fb'}, label: {show: false},
        data: [[{xAxis: shadeRange[0]}, {xAxis: shadeRange[1]}]]}});
  }
  const gl = {color: '#b0b0b0', width: 1, type: 'solid'};
  const ml = [];
  xTicks.forEach(v => ml.push({xAxis: v, lineStyle: gl}));
  p.yt.forEach(v => { if (v !== 0) ml.push({yAxis: v, lineStyle: gl}); });
  ml.push({yAxis: 0, lineStyle: {color: '#a6a6a6', width: 2.8, type: 'solid'}});
  series.push({type: 'line', xAxisIndex: i, yAxisIndex: i, data: [[0, 0]], showSymbol: false, silent: true,
    lineStyle: {opacity: 0}, z: 1, animation: false,
    markLine: {silent: true, z: 1, symbol: ['none', 'none'], label: {show: false}, animation: false,
      emphasis: {disabled: true}, data: ml}});

  for (let k = 1; k <= 7; k++) {
    series.push({name: seriesNames[k], type: 'line', xAxisIndex: i, yAxisIndex: i,
      data: pairs(dist, p.s[k]), showSymbol: false, color: colors[k],
      lineStyle: {color: colors[k], width: 3.3}, z: 2, silent: true, animation: false});
  }
  series.push({name: seriesNames[0], type: 'line', xAxisIndex: i, yAxisIndex: i,
    data: pairs(p.ox, p.s[0]), showSymbol: false, color: colors[0],
    lineStyle: {color: colors[0], width: 1.3}, z: 3, silent: true, animation: false});
});

const chart = echarts.init(document.getElementById('c'), null, {renderer: 'canvas'});
chart.setOption({
  animation: false,
  backgroundColor: '#ffffff',
  textStyle: {fontFamily: FONT},
  title: titles,
  grid: grids, xAxis: xAxes, yAxis: yAxes, series: series,
  legend: {data: seriesNames, orient: 'vertical', left: 947, top: 474, icon: 'rect',
    itemWidth: 36, itemHeight: 4, itemGap: 6.6, padding: [5, 7, 7, 4], selectedMode: false,
    borderColor: '#cccccc', borderWidth: 1, borderRadius: 3, backgroundColor: 'rgba(255,255,255,0.8)',
    textStyle: {fontFamily: FONT, fontSize: TICK_FS, color: '#000', lineHeight: 16, padding: [0, 0, 0, 5]}},
  graphic: [
    {type: 'text', x: 20, y: 350, rotation: Math.PI / 2, silent: true,
      style: {text: 'Brightness temperature difference (K)', fontFamily: FONT, fontSize: TICK_FS, fill: '#000',
        align: 'center', verticalAlign: 'middle', textAlign: 'center', textVerticalAlign: 'middle'}},
    {type: 'text', x: 636, y: 914, silent: true,
      style: {text: 'Distance along track (km)', fontFamily: FONT, fontSize: TICK_FS, fill: '#000',
        align: 'center', verticalAlign: 'middle', textAlign: 'center', textVerticalAlign: 'middle'}}
  ]
});
</script></body></html>
